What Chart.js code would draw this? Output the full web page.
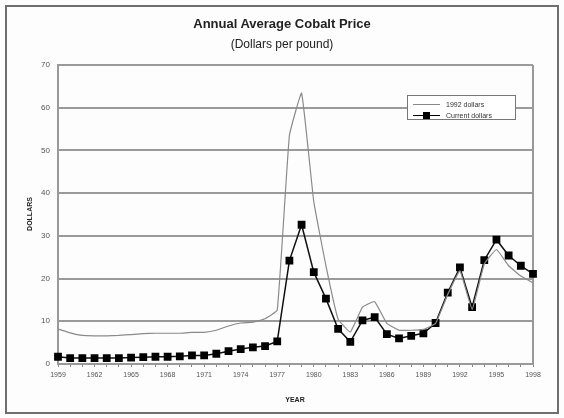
<!DOCTYPE html>
<html>
<head>
<meta charset="utf-8">
<script src="https://cdn.jsdelivr.net/npm/chart.js@4"></script>
<style>
  html, body { margin: 0; padding: 0; background: #fdfdfd; }
  #wrap { position: relative; width: 564px; height: 418px; font-family: "Liberation Sans", Arial, sans-serif; }
  #frame { position: absolute; left: 5px; top: 5px; width: 550px; height: 405px; border: 2px solid #6f6f6f; pointer-events: none; }
  .txt { position: absolute; color: #222; white-space: nowrap; }
  #title { left: 0; width: 564px; top: 16px; text-align: center; font-size: 13px; font-weight: bold; }
  #subtitle { left: 0; width: 564px; top: 37px; text-align: center; font-size: 12px; }
  #ylab { left: 29px; top: 214px; font-size: 7px; font-weight: bold; transform: translate(-50%, -50%) rotate(-90deg); }
  #xlab { left: 295px; top: 399px; font-size: 7px; font-weight: bold; transform: translate(-50%, -50%); }
  #legend { position: absolute; left: 407px; top: 95px; width: 107px; height: 23px; background: #fff; border: 1px solid #777; font-size: 7px; color: #333; }
  .row { position: absolute; left: 5px; width: 100px; height: 10px; }
  .sample { position: absolute; left: 0; top: 4px; width: 27px; height: 0; }
  .sq { position: absolute; left: 10px; top: 1px; width: 7px; height: 7px; background: #000; }
  .lt { position: absolute; left: 33px; top: 0; line-height: 9px; white-space: nowrap; }
</style>
</head>
<body>
<div id="wrap">
  <canvas id="chart" width="564" height="418"></canvas>
  <div id="frame"></div>
  <div class="txt" id="title">Annual Average Cobalt Price</div>
  <div class="txt" id="subtitle">(Dollars per pound)</div>
  <div class="txt" id="ylab">DOLLARS</div>
  <div class="txt" id="xlab">YEAR</div>
  <div id="legend">
    <div class="row" style="top:4px;">
      <div class="sample" style="border-top:1px solid #888;"></div>
      <div class="lt">1992 dollars</div>
    </div>
    <div class="row" style="top:15px;">
      <div class="sample" style="border-top:1.5px solid #000;"></div>
      <div class="sq"></div>
      <div class="lt">Current dollars</div>
    </div>
  </div>
</div>
<script>
const years = [];
for (let y = 1959; y <= 1998; y++) years.push(String(y));

// 1992 constant dollars
const dollars1992 = [8.2, 7.3, 6.7, 6.6, 6.6, 6.7, 6.9, 7.1, 7.2, 7.2,
                     7.2, 7.4, 7.4, 7.9, 8.9, 9.6, 9.8, 10.6, 12.6, 53.5,
                     63.4, 38.0, 23.0, 10.5, 7.5, 13.3, 14.6, 9.5, 7.9, 7.9,
                     8.1, 9.5, 16.3, 21.8, 12.8, 23.4, 26.8, 23.0, 20.6, 19.0];

// current dollars
const currentDollars = [1.7, 1.4, 1.4, 1.4, 1.4, 1.4, 1.5, 1.6, 1.7, 1.7,
                        1.8, 2.0, 2.0, 2.4, 3.0, 3.5, 3.9, 4.2, 5.3, 24.2,
                        32.6, 21.5, 15.3, 8.2, 5.2, 10.2, 11.0, 7.0, 6.0, 6.6,
                        7.2, 9.6, 16.7, 22.6, 13.3, 24.3, 29.1, 25.4, 23.0, 21.1];

const yTicks = [0, 10, 20, 30, 40, 50, 60, 70];

// right edge of the plot box
const plotFrame = {
    id: 'plotFrame',
    beforeDatasetsDraw(chart) {
        const a = chart.chartArea, ctx = chart.ctx;
        ctx.save();
        ctx.strokeStyle = '#999';
        ctx.lineWidth = 2;
        ctx.beginPath();
        ctx.moveTo(a.right, a.top);
        ctx.lineTo(a.right, a.bottom);
        ctx.stroke();
        ctx.restore();
    }
};

new Chart(document.getElementById('chart'), {
    type: 'line',
    data: {
        labels: years,
        datasets: [{
            label: '1992 dollars',
            data: dollars1992,
            borderColor: '#8a8a8a',
            borderWidth: 1.2,
            pointRadius: 0,
            tension: 0.1
        }, {
            label: 'Current dollars',
            data: currentDollars,
            borderColor: '#111',
            backgroundColor: '#000',
            borderWidth: 1.5,
            pointStyle: 'rect',
            pointRadius: 5.5,
            pointBorderWidth: 0,
            tension: 0
        }]
    },
    options: {
        responsive: false,
        animation: false,
        layout: { padding: { top: 65, right: 31, left: 0, bottom: 0 } },
        plugins: { legend: { display: false }, tooltip: { enabled: false } },
        scales: {
            x: {
                offset: false,
                afterFit(s) { s.height = 54; },
                grid: { drawOnChartArea: false, color: '#888', tickLength: 3 },
                border: { color: '#999', width: 2 },
                ticks: {
                    autoSkip: false,
                    maxRotation: 0,
                    padding: 4,
                    color: '#555',
                    font: { family: 'Liberation Sans', size: 7 },
                    callback(v, i) { return i % 3 === 0 ? years[i] : ''; }
                }
            },
            y: {
                min: 0,
                max: 70,
                afterFit(s) { s.width = 58; },
                afterBuildTicks(s) { s.ticks = yTicks.map(v => ({ value: v })); },
                grid: { color: '#9a9a9a', lineWidth: 2, drawTicks: false },
                border: { color: '#999', width: 2 },
                ticks: {
                    padding: 8,
                    color: '#555',
                    font: { family: 'Liberation Sans', size: 8 }
                }
            }
        }
    },
    plugins: [plotFrame]
});
</script>
</body>
</html>
